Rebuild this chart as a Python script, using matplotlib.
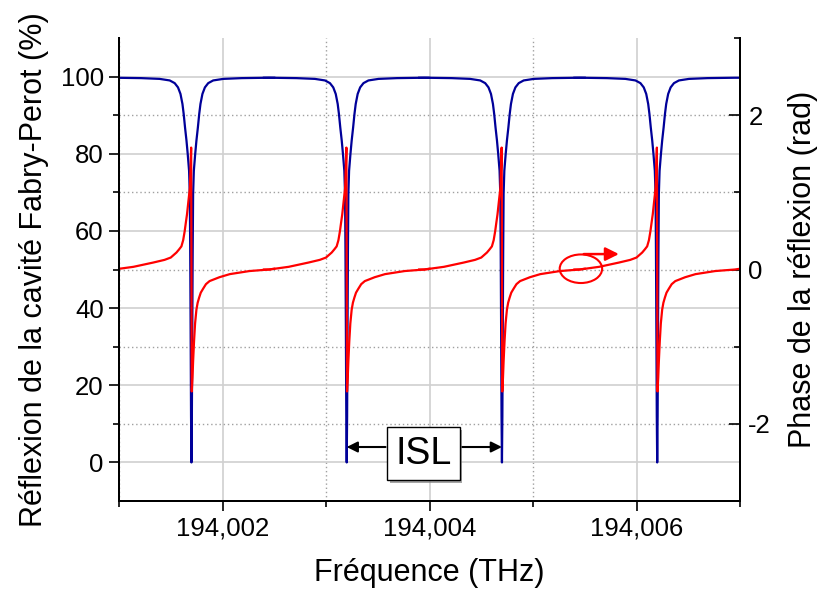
# Fabry-Perot cavity: reflection and reflection phase vs frequency
import matplotlib.pyplot as plt
import matplotlib.patheffects as pe
from matplotlib.patches import Ellipse
from matplotlib.ticker import FixedLocator, FuncFormatter
import numpy as np

plt.rcParams['font.family'] = ['Liberation Sans', 'DejaVu Sans']
plt.rcParams['axes.unicode_minus'] = False

# resonance frequencies (THz)
resonances = [194.0017, 194.0032, 194.0047, 194.0062]

# reflection profile around one resonance: offset (MHz) -> reflection (%)
refl_offset = [-800, -750, -485, -307, -210, -162, -130, -106, -87, -75, -62, -48, -36, -23,
               -16, -12, -8, -4, 0, 4, 8, 12, 16, 23, 36, 48, 62, 75, 87, 106, 130, 162,
               210, 307, 485, 750, 800]
refl_value = [99.7, 99.7, 99.6, 99.4, 99.0, 98.3, 97.2, 95.5, 92.9, 90.3, 86.8, 83.4, 79.9, 75.6,
              69.6, 55, 35, 12, 0, 12, 35, 55, 69.6, 75.6, 79.9, 83.4, 86.8, 90.3, 92.9, 95.5,
              97.2, 98.3, 99.0, 99.4, 99.6, 99.7, 99.7]

# phase profile around one resonance: offset (MHz) -> phase (rad)
phase_offset = [-800, -750, -560, -370, -260, -200, -145, -120, -97, -80, -65, -55, -43, -29,
                -15, -3, 3, 10, 16, 25, 35, 48, 60, 74, 90, 112, 140, 175, 270, 370, 560,
                750, 800]
phase_value = [0.0, 0.0, 0.035, 0.09, 0.125, 0.155, 0.22, 0.26, 0.3, 0.38, 0.5, 0.6, 0.715,
               0.89, 1.06, 1.58, -1.58, -1.4, -1.19, -0.93, -0.7, -0.52, -0.43, -0.365, -0.3,
               -0.25, -0.19, -0.15, -0.1, -0.06, -0.02, 0.0, 0.01]

# tick positions and labels
x_major = [194.002, 194.004, 194.006]
x_minor = [194.001, 194.003, 194.005, 194.007]
y_major = [0, 20, 40, 60, 80, 100]
y_minor = [10, 30, 50, 70, 90]
phase_major = [-2, 0, 2]
phase_minor = [-3, -1, 1, 3]

fig = plt.figure(figsize=(8.27, 5.90), dpi=100)
ax = fig.add_axes([0.1439, 0.1508, 0.7509, 0.7848])
ax2 = ax.twinx()

blue = '#000099'
red = '#ff0000'

for f0 in resonances:
    ax.plot(f0 + np.array(refl_offset) * 1e-6, refl_value, color=blue, lw=1.6, zorder=3)
    ax2.plot(f0 + np.array(phase_offset) * 1e-6, phase_value, color=red, lw=1.6, zorder=4)

# axes limits and ticks
ax.set_xlim(194.001, 194.007)
ax.set_ylim(-10, 110)
ax2.set_ylim(-3, 3)

ax.xaxis.set_major_locator(FixedLocator(x_major))
ax.xaxis.set_minor_locator(FixedLocator(x_minor))
ax.xaxis.set_major_formatter(FuncFormatter(lambda v, p: f"{v:.3f}".replace('.', ',')))
ax.yaxis.set_major_locator(FixedLocator(y_major))
ax.yaxis.set_minor_locator(FixedLocator(y_minor))
ax2.yaxis.set_major_locator(FixedLocator(phase_major))
ax2.yaxis.set_minor_locator(FixedLocator(phase_minor))

ax.tick_params(which='major', direction='out', length=7, width=1.2, labelsize=18.5, pad=4)
ax.tick_params(which='minor', direction='out', length=4, width=1.2)
ax2.tick_params(which='major', direction='in', length=8, width=1.2, labelsize=18.5, pad=6)
ax2.tick_params(which='minor', direction='in', length=4, width=1.2)

for a in (ax, ax2):
    a.spines['top'].set_visible(False)
    for s in ('left', 'right', 'bottom'):
        a.spines[s].set_linewidth(1.4)
        a.spines[s].set_color('black')
        a.spines[s].set_zorder(10)

# grid: solid on major, dotted on minor
ax.grid(which='major', color='#d0d0d0', lw=1.2, ls='-')
ax.grid(which='minor', color='#a0a0a0', lw=1.0, ls=(0, (1, 2)))
ax.set_axisbelow(True)

ax.set_xlabel('Fréquence (THz)', fontsize=22, labelpad=13)
ax.set_ylabel('Réflexion de la cavité Fabry-Perot (%)', fontsize=22, labelpad=8)
ax2.set_ylabel('Phase de la réflexion (rad)', fontsize=22, labelpad=12)

# ISL annotation between two resonances
isl = ax.text(194.00394, 2.3, 'ISL', fontsize=27, ha='center', va='center', zorder=6,
              bbox=dict(boxstyle='square,pad=0.22', fc='white', ec='black', lw=1.0))
isl.get_bbox_patch().set_path_effects([pe.withSimplePatchShadow(offset=(2, -2), shadow_rgbFace='gray', alpha=0.7)])
ax.annotate('', xy=(resonances[1], 4), xytext=(194.003575, 4), zorder=5,
            arrowprops=dict(arrowstyle='-|>', color='black', lw=1.5, mutation_scale=16,
                            shrinkA=0, shrinkB=0))
ax.annotate('', xy=(resonances[2], 4), xytext=(194.0043, 4), zorder=5,
            arrowprops=dict(arrowstyle='-|>', color='black', lw=1.5, mutation_scale=16,
                            shrinkA=0, shrinkB=0))

# ellipse + arrow marking the phase curve -> right axis
ax2.add_patch(Ellipse((194.005463, 0.01), 0.00041, 0.37, fill=False, ec=red, lw=1.5, zorder=5))
ax2.annotate('', xy=(194.00583, 0.2), xytext=(194.00549, 0.2), zorder=5,
             arrowprops=dict(arrowstyle='-|>', color=red, lw=1.8, mutation_scale=20,
                             shrinkA=0, shrinkB=0))

plt.savefig('out.png', dpi=100)
